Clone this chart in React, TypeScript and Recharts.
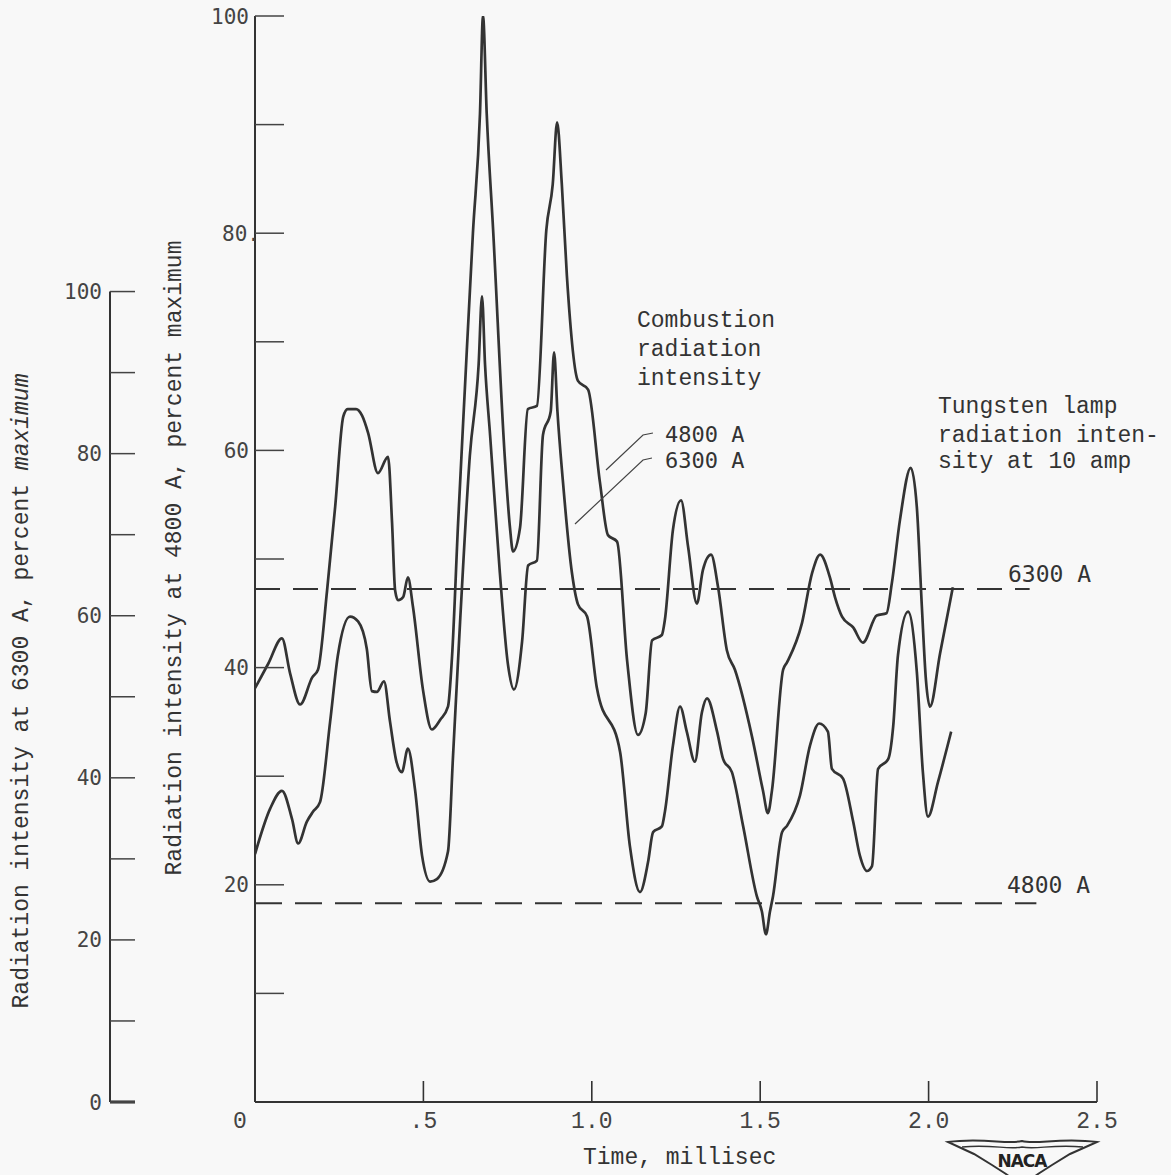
import React from 'react';
import { ComposedChart, Line, XAxis, YAxis, ReferenceLine } from 'recharts';

// Combustion radiation intensity at 4800 A (left main axis, percent maximum)
const time4800 = [
  0.0, 0.04, 0.08, 0.104, 0.134, 0.17, 0.187, 0.214, 0.238, 0.262, 0.275, 0.3, 0.318, 0.336,
  0.365, 0.395, 0.407, 0.416, 0.425, 0.44, 0.454, 0.469, 0.499, 0.525, 0.55, 0.573, 0.585,
  0.603, 0.623, 0.647, 0.668, 0.677, 0.688, 0.707, 0.742, 0.757, 0.766, 0.787, 0.81, 0.837,
  0.865, 0.884, 0.897, 0.911, 0.926, 0.959, 0.989, 1.024, 1.048, 1.075, 1.105, 1.137, 1.16,
  1.179, 1.208, 1.217, 1.241, 1.265, 1.286, 1.312, 1.33, 1.354, 1.375, 1.401, 1.425, 1.476,
  1.508, 1.523, 1.535, 1.568, 1.58, 1.624, 1.654, 1.678, 1.707, 1.722, 1.743, 1.776, 1.805,
  1.846, 1.875, 1.891, 1.915, 1.947, 1.965, 1.98, 1.992, 2.004, 2.034, 2.072,
];
const value4800 = [
  38.1, 40.4, 42.7, 39.5, 36.6, 39.1, 39.8, 47.1, 54.8, 63.1, 63.8, 63.8, 63.2, 61.6,
  57.9, 59.4, 53.3, 47.1, 46.2, 46.5, 48.3, 45.6, 37.9, 34.3, 35.2, 36.4, 41.0,
  53.3, 65.6, 80.0, 91.0, 100.0, 91.0, 80.3, 59.2, 52.9, 50.7, 52.9, 63.8, 64.1,
  80.3, 84.5, 90.2, 84.5, 76.1, 66.4, 65.6, 57.1, 52.2, 51.6, 40.6, 33.8, 35.8,
  42.5, 43.0, 44.4, 52.7, 55.4, 51.1, 45.9, 49.0, 50.4, 47.4, 41.6, 39.8, 33.6,
  28.7, 26.6, 28.7, 39.8, 40.5, 44.1, 48.7, 50.4, 48.3, 46.5, 44.7, 43.7, 42.3,
  44.8, 45.0, 47.8, 53.6, 58.4, 54.8, 45.6, 38.9, 36.4, 41.3, 47.4,
];

// Combustion radiation intensity at 6300 A (outer axis, percent maximum)
const time6300 = [
  0.0, 0.045, 0.08, 0.11, 0.128, 0.154, 0.172, 0.193, 0.223, 0.246, 0.282, 0.306, 0.332,
  0.347, 0.362, 0.383, 0.401, 0.42, 0.436, 0.454, 0.475, 0.496, 0.52, 0.54, 0.573, 0.588,
  0.609, 0.638, 0.664, 0.674, 0.683, 0.698, 0.727, 0.751, 0.769, 0.793, 0.811, 0.837, 0.855,
  0.878, 0.888, 0.898, 0.914, 0.941, 0.959, 0.986, 1.015, 1.084, 1.113, 1.143, 1.167, 1.182,
  1.208, 1.217, 1.241, 1.262, 1.282, 1.306, 1.327, 1.342, 1.372, 1.39, 1.416, 1.449, 1.49,
  1.505, 1.517, 1.529, 1.538, 1.565, 1.58, 1.618, 1.648, 1.675, 1.701, 1.713, 1.746, 1.776,
  1.796, 1.817, 1.832, 1.85, 1.88, 1.895, 1.909, 1.939, 1.965, 1.983, 1.998, 2.028, 2.067,
];
const value6300 = [
  30.6, 36.2, 38.4, 34.9, 31.9, 34.6, 35.8, 37.0, 46.9, 55.1, 59.9, 59.3, 55.9,
  50.7, 50.6, 51.9, 46.9, 42.0, 40.7, 43.6, 38.6, 30.4, 27.2, 27.5, 30.9, 42.7,
  59.3, 79.8, 91.0, 99.4, 91.0, 82.3, 65.3, 54.0, 50.9, 56.8, 66.2, 66.8, 82.3,
  85.2, 92.5, 85.2, 76.7, 65.3, 61.4, 59.9, 51.1, 43.2, 31.6, 25.9, 29.6, 33.3,
  34.0, 35.8, 44.0, 48.8, 45.7, 42.0, 48.1, 49.8, 45.7, 42.3, 40.7, 34.1, 25.4,
  23.5, 20.7, 23.5, 25.4, 33.3, 34.1, 37.8, 44.0, 46.7, 45.7, 41.1, 39.9, 34.6,
  30.4, 28.5, 29.1, 41.1, 42.3, 46.4, 55.1, 60.5, 53.1, 40.7, 35.2, 39.5, 45.7,
];

// Tungsten lamp reference levels
const lamp4800Level = 18.3;
const lamp4800End = 2.32;
const lamp6300Level = 63.3;
const lamp6300End = 2.3;

// Axis ticks and labels
const xTicks = [0, 0.5, 1.0, 1.5, 2.0, 2.5];
const xTickLabels = ['0', '.5', '1.0', '1.5', '2.0', '2.5'];
const mainYTicks = [10, 20, 30, 40, 50, 60, 70, 80, 90, 100];
const mainYTickLabels = ['', '20', '', '40', '', '60', '', '80.', '', '100'];
const secYTicks = [0, 10, 20, 30, 40, 50, 60, 70, 80, 90, 100];
const secYTickLabels = ['0', '', '20', '', '40', '', '60', '', '80', '', '100'];

const data4800 = time4800.map((t, i) => ({ t, v: value4800[i] }));
const data6300 = time6300.map((t, i) => ({ t, v: value6300[i] }));

// layout
const W = 1171;
const H = 1175;
const PLOT_TOP = 16;
const PLOT_H = 1086;
const SEC_MAX = 134;
const INK = '#333';
const TYPE_FONT = "'Liberation Mono', 'Courier New', monospace";
const LETTER_FONT = "'DejaVu Sans Mono', monospace";

const XTick = (props: any) => {
  const { x, y, payload } = props;
  const idx = xTicks.indexOf(payload.value);
  const label = xTickLabels[idx];
  const isZero = payload.value === 0;
  return (
    <g>
      {!isZero && <line x1={x} y1={y} x2={x} y2={y - 21} stroke={INK} strokeWidth={1.6} />}
      <text
        x={isZero ? x - 15 : x}
        y={y + 26}
        textAnchor="middle"
        fontFamily={TYPE_FONT}
        fontSize={23}
        fill="#444"
      >
        {label}
      </text>
    </g>
  );
};

const MainYTick = (props: any) => {
  const { x, y, payload } = props;
  const idx = mainYTicks.indexOf(payload.value);
  const label = mainYTickLabels[idx];
  const shift = label && label.endsWith('.') ? 5 : -6;
  return (
    <g>
      <line x1={x} y1={y} x2={x + 29} y2={y} stroke="#444" strokeWidth={1.5} />
      {label ? (
        <text
          x={x + shift}
          y={y}
          dy="0.36em"
          textAnchor="end"
          fontFamily={LETTER_FONT}
          fontSize={21}
          fill="#444"
        >
          {label}
        </text>
      ) : null}
    </g>
  );
};

const SecYTick = (props: any) => {
  const { x, y, payload } = props;
  const v = payload.value;
  const idx = secYTicks.indexOf(v);
  const label = secYTickLabels[idx];
  return (
    <g>
      {v === 0 && (
        <line
          x1={x}
          y1={y}
          x2={x}
          y2={y - (100 * PLOT_H) / SEC_MAX}
          stroke={INK}
          strokeWidth={2}
        />
      )}
      <line x1={x} y1={y} x2={x + 25} y2={y} stroke="#444" strokeWidth={v === 0 ? 3.2 : 1.5} />
      {label ? (
        <text
          x={x - 8}
          y={y}
          dy="0.36em"
          textAnchor="end"
          fontFamily={LETTER_FONT}
          fontSize={21}
          fill="#444"
        >
          {label}
        </text>
      ) : null}
    </g>
  );
};

const typeText = { fontFamily: TYPE_FONT, fontSize: 23, fill: '#333' } as const;
const letterText = { fontFamily: LETTER_FONT, fontSize: 22, fill: '#333' } as const;

export default function App() {
  return (
    <div style={{ position: 'relative', width: W, height: H }}>
      <style>{'html,body{overflow:hidden;background:#f8f8f8;margin:0;}'}</style>
      <ComposedChart
        width={W}
        height={H}
        margin={{ top: PLOT_TOP, right: 74, bottom: H - PLOT_TOP - PLOT_H - 30, left: 8 }}
      >
        <XAxis
          xAxisId={0}
          type="number"
          dataKey="t"
          domain={[0, 2.5]}
          ticks={xTicks}
          interval={0}
          height={30}
          tickSize={0}
          tickMargin={0}
          tickLine={false}
          axisLine={{ stroke: INK, strokeWidth: 2 }}
          tick={<XTick />}
          allowDataOverflow
        />
        <YAxis
          yAxisId="main"
          orientation="left"
          type="number"
          domain={[0, 100]}
          ticks={mainYTicks}
          interval={0}
          width={145}
          tickSize={0}
          tickMargin={0}
          tickLine={false}
          axisLine={{ stroke: INK, strokeWidth: 2 }}
          tick={<MainYTick />}
          allowDataOverflow
        />
        <YAxis
          yAxisId="sec"
          orientation="left"
          type="number"
          domain={[0, SEC_MAX]}
          ticks={secYTicks}
          interval={0}
          width={102}
          tickSize={0}
          tickMargin={0}
          tickLine={false}
          axisLine={false}
          tick={<SecYTick />}
          allowDataOverflow
        />
        <ReferenceLine
          yAxisId="sec"
          segment={[
            { x: 0, y: lamp6300Level },
            { x: lamp6300End, y: lamp6300Level },
          ]}
          stroke={INK}
          strokeWidth={2}
          strokeDasharray="25 13"
        />
        <ReferenceLine
          yAxisId="main"
          segment={[
            { x: 0, y: lamp4800Level },
            { x: lamp4800End, y: lamp4800Level },
          ]}
          stroke={INK}
          strokeWidth={2}
          strokeDasharray="27 13"
        />
        <Line
          yAxisId="main"
          data={data4800}
          dataKey="v"
          type="monotone"
          stroke={INK}
          strokeWidth={2.7}
          dot={false}
          isAnimationActive={false}
        />
        <Line
          yAxisId="sec"
          data={data6300}
          dataKey="v"
          type="monotone"
          stroke={INK}
          strokeWidth={2.7}
          dot={false}
          isAnimationActive={false}
        />
      </ComposedChart>
      <svg
        width={W}
        height={H}
        style={{ position: 'absolute', left: 0, top: 0, pointerEvents: 'none' }}
      >
        <g transform="translate(8,8)">
          <text x={629} y={319} {...typeText}>Combustion</text>
          <text x={629} y={348} {...typeText}>radiation</text>
          <text x={629} y={377} {...typeText}>intensity</text>
          <text x={657} y={434} {...letterText}>4800 A</text>
          <text x={657} y={460} {...letterText}>6300 A</text>
          <polyline points="645,425 635,427 598,462" fill="none" stroke="#444" strokeWidth={1.2} />
          <polyline points="644,450 635,452 567,516" fill="none" stroke="#444" strokeWidth={1.2} />

          <text x={930} y={405} {...typeText}>Tungsten lamp</text>
          <text x={930} y={434} {...typeText}>radiation inten-</text>
          <text x={930} y={460} {...typeText}>sity at 10 amp</text>
          <text x={1000} y={574} {...letterText} fontSize={23}>6300 A</text>
          <text x={999} y={885} {...letterText} fontSize={23}>4800 A</text>

          <text transform="translate(173,550) rotate(-90)" textAnchor="middle" {...typeText}>
            Radiation intensity at 4800 A, percent maximum
          </text>
          <text transform="translate(20,683) rotate(-90)" textAnchor="middle" {...typeText}>
            Radiation intensity at 6300 A, percent <tspan fontStyle="italic">maximum</tspan>
          </text>
          <text x={575} y={1156} {...typeText}>Time, millisec</text>

          <path
            d="M940,1134 C975,1129 1000,1137 1014,1133 C1028,1137 1053,1129 1089,1134 L1062,1146 L1044,1157 L1030,1166 L1022,1172 L1006,1172 L998,1166 L984,1157 L966,1146 Z"
            fill="none"
            stroke="#333"
            strokeWidth={2}
          />
          <path
            d="M954,1139 C984,1136 1000,1142 1014,1139 C1028,1142 1044,1136 1075,1139"
            fill="none"
            stroke="#333"
            strokeWidth={1.4}
          />
          <text
            x={1014}
            y={1159}
            textAnchor="middle"
            fontFamily="'DejaVu Sans', sans-serif"
            fontWeight="bold"
            fontSize={17}
            letterSpacing={-1}
            fill="#222"
          >
            NACA
          </text>
        </g>
      </svg>
    </div>
  );
}
